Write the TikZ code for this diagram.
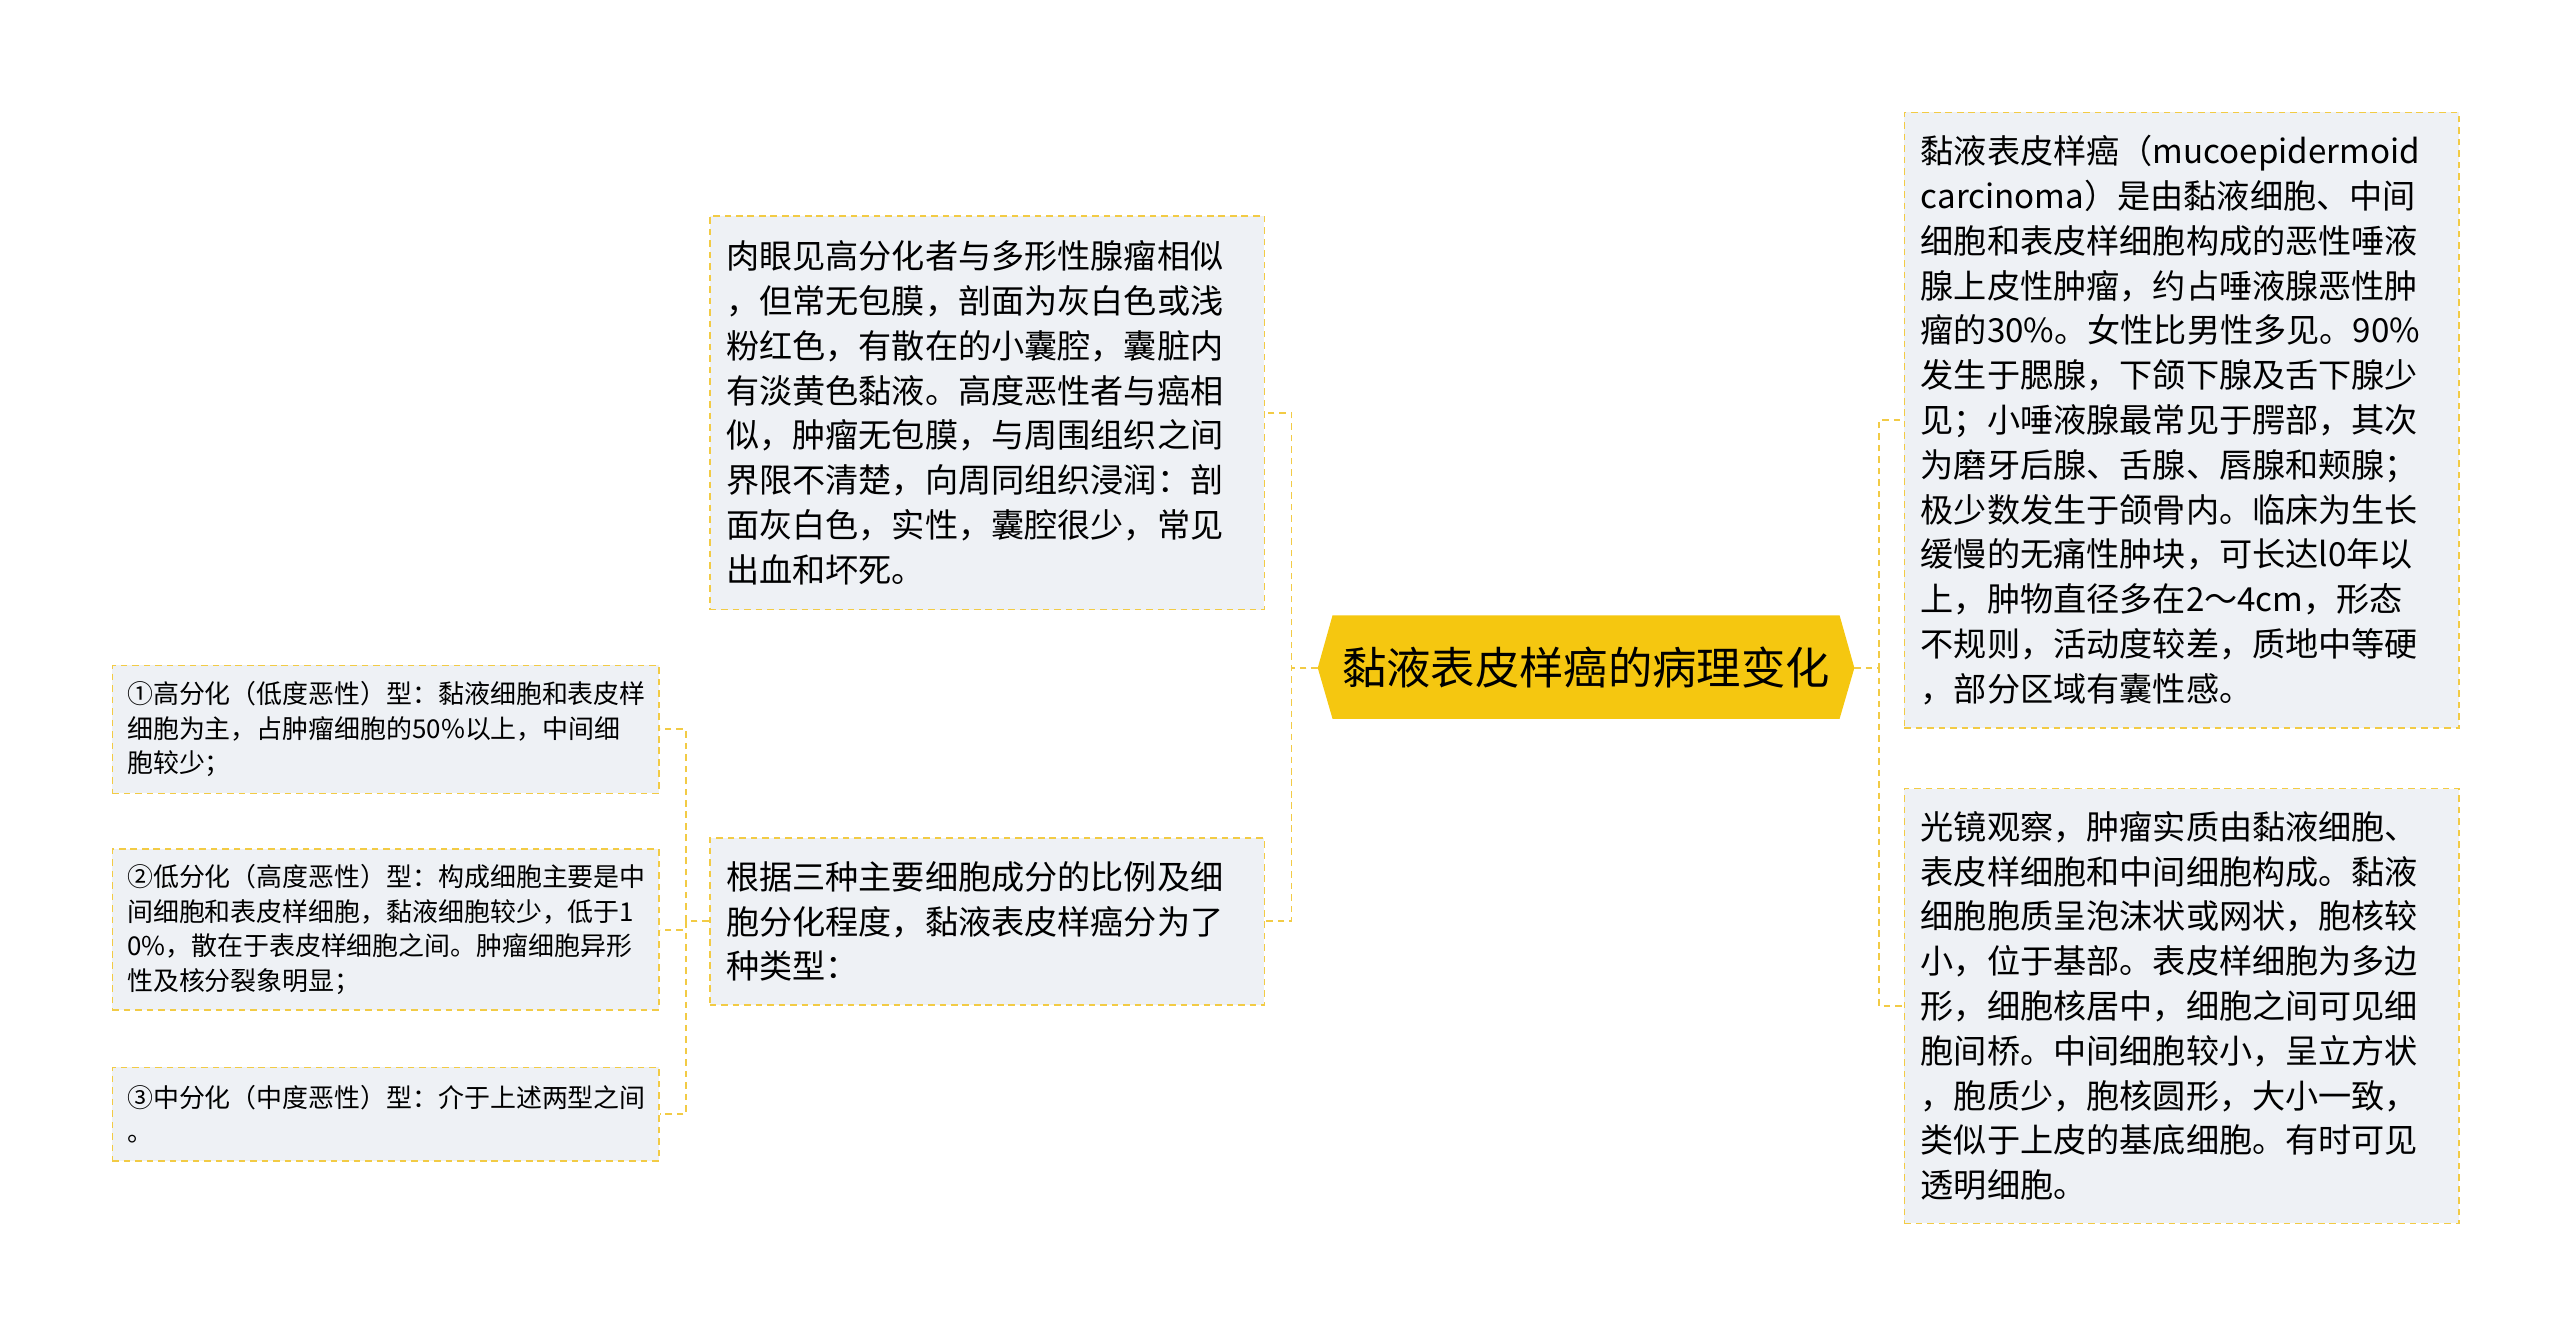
\documentclass[tikz,border=0pt]{standalone}
\usepackage{fontspec}
\setmainfont{Noto Sans CJK SC}
\definecolor{yel}{HTML}{F5C710}
\definecolor{bord}{HTML}{F2CB45}
\definecolor{boxf}{HTML}{EEF1F5}
\begin{document}
\begin{tikzpicture}[x=1pt,y=1pt,
  box/.style={draw=bord,fill=boxf,dashed,dash pattern=on 4pt off 3pt,line width=1pt,anchor=north west,inner xsep=10pt,inner ysep=0pt,align=left,font=\fontsize{20.2}{27.3}\selectfont},
  sbox/.style={box,font=\fontsize{15.8}{21}\selectfont,inner xsep=9pt},
  con/.style={draw=bord,dashed,dash pattern=on 4pt off 3pt,line width=1.2pt}]
\useasboundingbox[fill=white] (0,0) rectangle (1560,-810);
% center
\fill[yel] (803,-407)--(812,-375)--(1121,-375)--(1130,-407)--(1121,-438)--(812,-438)--cycle;
\node (c) at (966.5,-406.5) {\fontsize{27}{32}\selectfont 黏液表皮样癌的病理变化};
\coordinate (cl) at (803,-407);
\coordinate (cr) at (1130,-407);
% right boxes
\node[box,text width=318pt,minimum height=375pt] (r1) at (1160,-68) {黏液表皮样癌（mucoepidermoid\\carcinoma）是由黏液细胞、中间\\细胞和表皮样细胞构成的恶性唾液\\腺上皮性肿瘤，约占唾液腺恶性肿\\瘤的30\%。女性比男性多见。90\%\\发生于腮腺，下颌下腺及舌下腺少\\见；小唾液腺最常见于腭部，其次\\为磨牙后腺、舌腺、唇腺和颊腺；\\极少数发生于颌骨内。临床为生长\\缓慢的无痛性肿块，可长达l0年以\\上，肿物直径多在2～4cm，形态\\不规则，活动度较差，质地中等硬\\，部分区域有囊性感。};
\node[box,text width=318pt,minimum height=265pt] (r2) at (1160,-480) {光镜观察，肿瘤实质由黏液细胞、\\表皮样细胞和中间细胞构成。黏液\\细胞胞质呈泡沫状或网状，胞核较\\小，位于基部。表皮样细胞为多边\\形，细胞核居中，细胞之间可见细\\胞间桥。中间细胞较小，呈立方状\\，胞质少，胞核圆形，大小一致，\\类似于上皮的基底细胞。有时可见\\透明细胞。};
% left boxes
\node[box,text width=318pt,minimum height=240pt] (l1) at (432,-131) {肉眼见高分化者与多形性腺瘤相似\\，但常无包膜，剖面为灰白色或浅\\粉红色，有散在的小囊腔，囊脏内\\有淡黄色黏液。高度恶性者与癌相\\似，肿瘤无包膜，与周围组织之间\\界限不清楚，向周同组织浸润：剖\\面灰白色，实性，囊腔很少，常见\\出血和坏死。};
\node[box,text width=318pt,minimum height=102pt] (l2) at (432,-510) {根据三种主要细胞成分的比例及细\\胞分化程度，黏液表皮样癌分为了\\种类型：};
% far left
\node[sbox,text width=315pt,minimum height=78pt] (f1) at (68,-405) {①高分化（低度恶性）型：黏液细胞和表皮样\\细胞为主，占肿瘤细胞的50\%以上，中间细\\胞较少；};
\node[sbox,text width=315pt,minimum height=98pt] (f2) at (68,-517) {②低分化（高度恶性）型：构成细胞主要是中\\间细胞和表皮样细胞，黏液细胞较少，低于1\\0\%，散在于表皮样细胞之间。肿瘤细胞异形\\性及核分裂象明显；};
\node[sbox,text width=315pt,minimum height=57pt] (f3) at (68,-650) {③中分化（中度恶性）型：介于上述两型之间\\。};
% connectors
\draw[con] (cl) -- ++(-16,0) |- (l1.east);
\draw[con] (cl) -- ++(-16,0) |- (l2.east);
\draw[con] (cr) -- ++(15,0) |- (r1.west);
\draw[con] (cr) -- ++(15,0) |- (r2.west);
\draw[con] (l2.west) -- ++(-14,0) |- (f1.east);
\draw[con] (l2.west) -- ++(-14,0) |- (f2.east);
\draw[con] (l2.west) -- ++(-14,0) |- (f3.east);
\end{tikzpicture}
\end{document}
